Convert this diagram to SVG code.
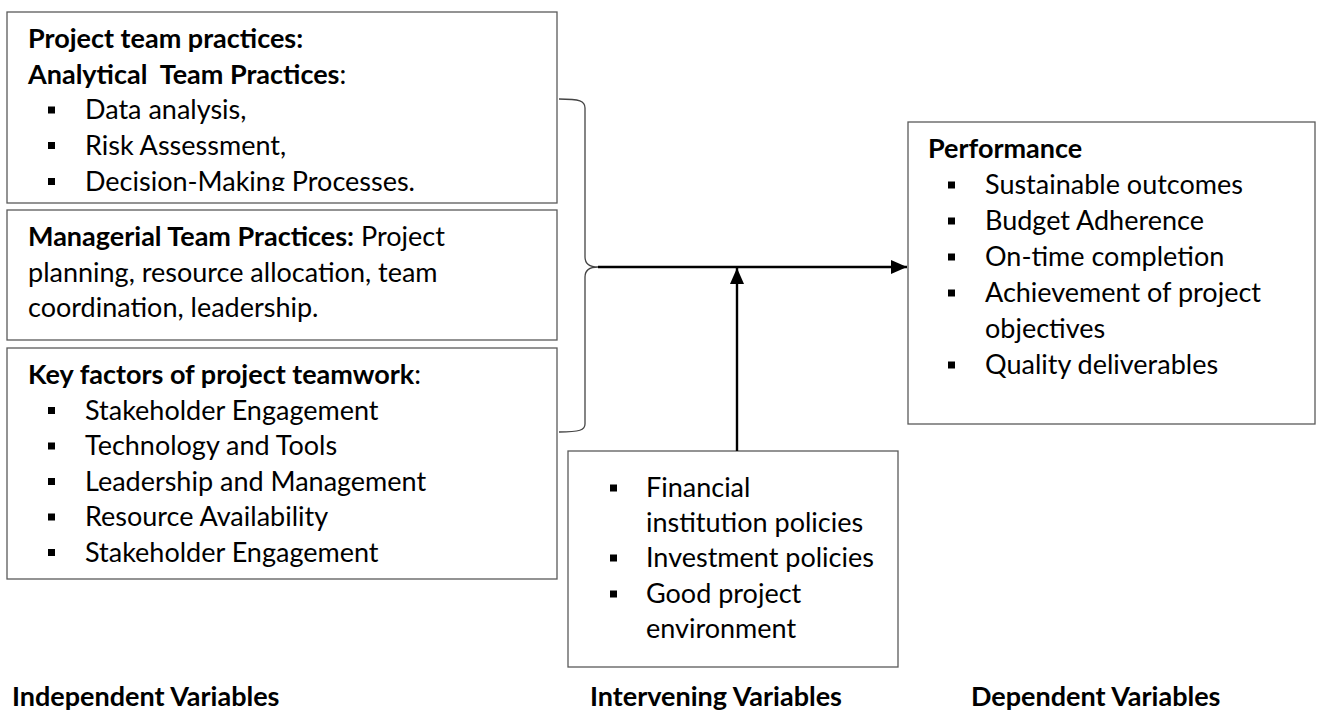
<svg xmlns="http://www.w3.org/2000/svg" width="1317" height="713" viewBox="0 0 1317 713">
  <style>
    .box { fill: #ffffff; stroke: #5a5a5a; stroke-width: 1.3; }
    .t { font-family: Lato, "Open Sans", "Liberation Sans", sans-serif; font-size: 27px; fill: #000000; white-space: pre; }
    .b { font-weight: bold; }
    .brace { fill: none; stroke: #444444; stroke-width: 1.3; }
    .link { fill: none; stroke: #000000; stroke-width: 2.4; }
  </style>
  <defs>
    <rect id="sq" x="0" y="-7" width="7" height="7" fill="#000000"/>
    <marker id="arrow" viewBox="0 0 16 14" refX="16" refY="7" markerWidth="16" markerHeight="14" markerUnits="userSpaceOnUse" orient="auto">
      <path d="M0,0 L16,7 L0,14 Z" fill="#000000"/>
    </marker>
    <clipPath id="clip-analytical">
      <rect x="7" y="12" width="550" height="179"/>
    </clipPath>
  </defs>

  <rect width="1317" height="713" fill="#ffffff"/>

  <!-- Independent variables -->
  <g id="analytical-practices">
    <rect class="box" x="7" y="12" width="550" height="191"/>
    <g clip-path="url(#clip-analytical)">
      <text class="t b" x="28" y="48">Project team practices:</text>
      <text class="t" x="28" y="83.5"><tspan class="b">Analytical  Team Practices</tspan>:</text>
      <use href="#sq" x="48" y="113.5"/>
      <text class="t" x="85" y="119">Data analysis,</text>
      <use href="#sq" x="48" y="149"/>
      <text class="t" x="85" y="154.5">Risk Assessment,</text>
      <use href="#sq" x="48" y="185"/>
      <text class="t" x="85" y="191">Decision-Making Processes.</text>
    </g>
  </g>

  <g id="managerial-practices">
    <rect class="box" x="7" y="210" width="550" height="130"/>
    <text class="t" x="28" y="246"><tspan class="b">Managerial Team Practices:</tspan> Project</text>
    <text class="t" x="28" y="281.5">planning, resource allocation, team</text>
    <text class="t" x="28" y="317">coordination, leadership.</text>
  </g>

  <g id="teamwork-factors">
    <rect class="box" x="7" y="348" width="550" height="231"/>
    <text class="t" x="28" y="384"><tspan class="b">Key factors of project teamwork</tspan>:</text>
    <use href="#sq" x="48" y="414"/>
    <text class="t" x="85" y="419.5">Stakeholder Engagement</text>
    <use href="#sq" x="48" y="449.5"/>
    <text class="t" x="85" y="455">Technology and Tools</text>
    <use href="#sq" x="48" y="485"/>
    <text class="t" x="85" y="490.5">Leadership and Management</text>
    <use href="#sq" x="48" y="520.5"/>
    <text class="t" x="85" y="526">Resource Availability</text>
    <use href="#sq" x="48" y="556"/>
    <text class="t" x="85" y="561.5">Stakeholder Engagement</text>
  </g>

  <!-- Dependent variable -->
  <g id="performance">
    <rect class="box" x="908" y="122" width="407" height="302"/>
    <text class="t b" x="928" y="158">Performance</text>
    <use href="#sq" x="948" y="188.5"/>
    <text class="t" x="985" y="194">Sustainable outcomes</text>
    <use href="#sq" x="948" y="224.5"/>
    <text class="t" x="985" y="230">Budget Adherence</text>
    <use href="#sq" x="948" y="260.5"/>
    <text class="t" x="985" y="266">On-time completion</text>
    <use href="#sq" x="948" y="296.5"/>
    <text class="t" x="985" y="302">Achievement of project</text>
    <text class="t" x="985" y="338">objectives</text>
    <use href="#sq" x="948" y="368.5"/>
    <text class="t" x="985" y="374">Quality deliverables</text>
  </g>

  <!-- Intervening variables -->
  <g id="intervening">
    <rect class="box" x="568" y="451" width="330" height="216"/>
    <use href="#sq" x="610" y="491.5"/>
    <text class="t" x="646" y="497">Financial</text>
    <text class="t" x="646" y="532">institution policies</text>
    <use href="#sq" x="610" y="561.5"/>
    <text class="t" x="646" y="567">Investment policies</text>
    <use href="#sq" x="610" y="597.5"/>
    <text class="t" x="646" y="603">Good project</text>
    <text class="t" x="646" y="638">environment</text>
  </g>

  <!-- Column captions -->
  <g id="captions">
    <text class="t b" x="12" y="706">Independent Variables</text>
    <text class="t b" x="590" y="706">Intervening Variables</text>
    <text class="t b" x="971" y="706">Dependent Variables</text>
  </g>

  <!-- Connectors -->
  <g id="connectors">
    <path class="brace" d="M559,99 C580,99 585,101 585,108 L585,257 C585,264 590,267 598,267 C590,267 585,270 585,277 L585,424 C585,430 580,432 559,432"/>
    <line class="link" x1="598" y1="267" x2="907" y2="267" marker-end="url(#arrow)"/>
    <line class="link" x1="737" y1="451" x2="737" y2="268" marker-end="url(#arrow)"/>
  </g>
</svg>
